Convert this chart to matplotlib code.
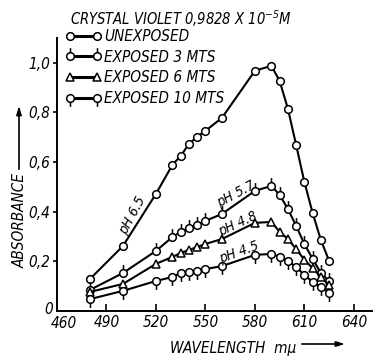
import matplotlib
matplotlib.use("Agg")
import matplotlib.pyplot as plt
from matplotlib.path import Path

# wavelength, m-mu
wavelength = [480, 500, 520, 530, 535, 540, 545, 550, 560,
              580, 590, 595, 600, 605, 610, 615, 620, 625]

# absorbance
unexposed = [0.129, 0.262, 0.472, 0.589, 0.625, 0.673, 0.702, 0.726, 0.778,
             0.968, 0.988, 0.927, 0.815, 0.669, 0.520, 0.395, 0.286, 0.202]
exposed_3 = [0.085, 0.153, 0.242, 0.298, 0.319, 0.335, 0.347, 0.363, 0.391,
             0.484, 0.504, 0.468, 0.411, 0.343, 0.270, 0.210, 0.153, 0.121]
exposed_6 = [0.077, 0.109, 0.190, 0.218, 0.234, 0.246, 0.258, 0.270, 0.290,
             0.355, 0.359, 0.319, 0.290, 0.250, 0.206, 0.173, 0.137, 0.105]
exposed_10 = [0.048, 0.081, 0.121, 0.137, 0.153, 0.157, 0.161, 0.169, 0.181,
              0.226, 0.230, 0.218, 0.202, 0.177, 0.145, 0.117, 0.097, 0.073]

series_labels = ["UNEXPOSED", "EXPOSED 3 MTS", "EXPOSED 6 MTS", "EXPOSED 10 MTS"]

# pH notes: (x, y, text, rotation)
ph_notes = [
    (505.5, 0.385, "pH 6.5", 62),
    (568.5, 0.472, "pH 5.7", 28),
    (569.5, 0.350, "pH 4.8", 25),
    (570.5, 0.236, "pH 4.5", 20),
]

x_ticks = [490, 520, 550, 580, 610, 640]
y_ticks = [0.2, 0.4, 0.6, 0.8, 1.0]
y_tick_labels = ["0,2", "0,4", "0,6", "0,8", "1,0"]

plt.rcParams["font.family"] = ["DejaVu Sans"]
plt.rcParams["font.style"] = "italic"
plt.rcParams["font.stretch"] = "condensed"
plt.rcParams["mathtext.fontset"] = "custom"
plt.rcParams["mathtext.rm"] = "DejaVu Sans:style=italic:stretch=condensed"
plt.rcParams["mathtext.it"] = "DejaVu Sans:style=italic:stretch=condensed"


def _tick_marker(up: bool) -> Path:
    circle = Path.unit_circle()
    s = 1 if up else -1
    tick = Path([(0, s * 1.0), (0, s * 2.2)], [Path.MOVETO, Path.LINETO])
    return Path.make_compound_path(circle, tick)


fig = plt.figure(figsize=(3.77, 3.6), dpi=100)
ax = fig.add_axes([57 / 377, 1 - 311 / 360, 315 / 377, 273 / 360])

circ_ms = 5.5
common = dict(color="black", linewidth=1.5, markerfacecolor="white",
              markeredgecolor="black", markeredgewidth=1.1)

ax.plot(wavelength, unexposed, marker="o", markersize=circ_ms,
        label=series_labels[0], **common)
ax.plot(wavelength, exposed_3, marker=_tick_marker(True), markersize=circ_ms * 2.2,
        label=series_labels[1], **common)
ax.plot(wavelength, exposed_6, marker="^", markersize=6,
        label=series_labels[2], **common)
ax.plot(wavelength, exposed_10, marker=_tick_marker(False), markersize=circ_ms * 2.2,
        label=series_labels[3], **common)

for x, y, txt, rot in ph_notes:
    ax.text(x, y, txt, rotation=rot, ha="center", va="center",
            rotation_mode="anchor", fontsize=10)

ax.set_xlim(460, 651)
ax.set_ylim(0, 1.1)
ax.spines["top"].set_visible(False)
ax.spines["right"].set_visible(False)
ax.spines["left"].set_linewidth(1.4)
ax.spines["bottom"].set_linewidth(1.4)

ax.set_xticks(x_ticks)
ax.set_xticklabels([str(t) for t in x_ticks])
ax.set_yticks(y_ticks)
ax.set_yticklabels(y_tick_labels)
ax.tick_params(axis="x", direction="in", length=5, width=1.2, pad=3, labelsize=11)
ax.tick_params(axis="y", direction="out", length=3, width=1.2, pad=2, labelsize=11)

# the corner labels sit off the tick grid in the print
fig.text(49 / 377, 1 - 309 / 360, "0", ha="center", va="center", fontsize=11)
fig.text(64 / 377, 1 - 323 / 360, "460", ha="center", va="center", fontsize=11)

leg = ax.legend(loc="upper left", bbox_to_anchor=(65 / 377, 1 - 29 / 360),
                bbox_transform=fig.transFigure, frameon=False, numpoints=2,
                borderpad=0, borderaxespad=0, handlelength=2.4,
                handletextpad=0.16, labelspacing=0.37, fontsize=11)
for line in leg.get_lines():
    line.set_linewidth(2.2)

fig.text(70 / 377, 1 - 19 / 360, "CRYSTAL VIOLET 0,9828 X 10$^{-5}$M",
         ha="left", va="center", fontsize=10.5)

# axis titles with arrows
fig.text(20 / 377, 1 - 220 / 360, "ABSORBANCE", rotation=90,
         ha="center", va="center", fontsize=11)
ax.annotate("", xy=(19 / 377, 1 - 103 / 360), xytext=(19 / 377, 1 - 172 / 360),
            xycoords="figure fraction", textcoords="figure fraction",
            arrowprops=dict(arrowstyle="-|>,head_length=0.5,head_width=0.15",
                            color="black", linewidth=1.2))
fig.text(170 / 377, 1 - 349 / 360, "WAVELENGTH  m\u03bc", ha="left", va="center",
         fontsize=11)
ax.annotate("", xy=(348 / 377, 1 - 344 / 360), xytext=(299 / 377, 1 - 344 / 360),
            xycoords="figure fraction", textcoords="figure fraction",
            arrowprops=dict(arrowstyle="-|>,head_length=0.5,head_width=0.15",
                            color="black", linewidth=1.2))

fig.savefig("out.png", dpi=100)
